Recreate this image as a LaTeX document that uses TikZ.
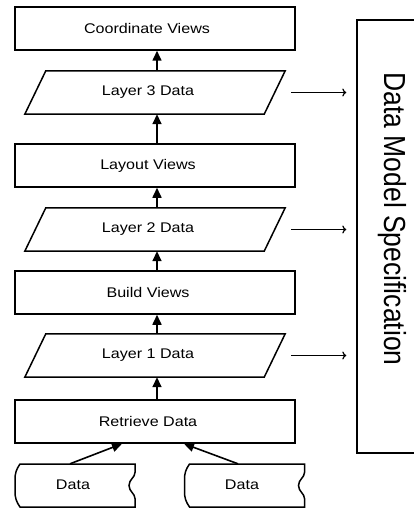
\documentclass[tikz,border=0pt]{standalone}
\usepackage{fontspec}
\setmainfont{Liberation Sans}
\newfontfamily\wfont{Liberation Sans}[FakeStretch=1.15]
\usetikzlibrary{arrows.meta,calc}
\begin{document}
\begin{tikzpicture}[x=1pt,y=-1pt,
  box/.style={draw, line width=1.5pt, minimum width=280pt, minimum height=43pt, inner sep=0pt},
  pbox/.style={minimum width=239pt, minimum height=43pt, inner sep=0pt},
  dbox/.style={minimum width=120pt, minimum height=43pt, inner sep=0pt},
  lbl/.style={font=\wfont\fontsize{14}{16}\selectfont, inner sep=0pt},
  shp/.style={line width=1.5pt},
  uparrow/.style={line width=1.6pt, -{Triangle[length=10pt,width=9pt]}},
  sidearrow/.style={line width=1.2pt, -{To[length=4pt,width=8pt]}},
]
\useasboundingbox (0,0) rectangle (413,508);

% rectangles
\node[box] (cv) at (155,28.5) {};
\node[lbl] at (147,28.5) {Coordinate Views};
\node[box] (lv) at (155,165.5) {};
\node[lbl] at (148,165.5) {Layout Views};
\node[box] (bv) at (155,292.5) {};
\node[lbl] at (148,292.5) {Build Views};
\node[box] (rd) at (155,421.5) {};
\node[lbl] at (148,421.5) {Retrieve Data};

% parallelograms
\foreach \n/\y/\t in {l3/92.5/Layer 3 Data, l2/229.5/Layer 2 Data, l1/355.5/Layer 1 Data}{
  \node[pbox] (\n) at (155,\y) {};
  \draw[shp] ([xshift=-10.5pt]\n.south west) -- ([xshift=-10.5pt]\n.south east)
     -- ([xshift=10.5pt]\n.north east) -- ([xshift=10.5pt]\n.north west) -- cycle;
  \node[lbl] at (148,\y) {\t};
}

% data documents
\foreach \n/\x in {d1/75, d2/244.5}{
  \node[dbox] (\n) at (\x,485.5) {};
  \begin{scope}[shift={(\x,485.5)}]
    \draw[shp] (-55,-21.5) to[out=-125,in=90] (-60,-6) -- (-60,6) to[out=-90,in=125] (-55,21.5)
      -- (60,21.5) -- (60,13) .. controls (60,8) and (54,6) .. (54,0)
      .. controls (54,-6) and (60,-8) .. (60,-13) -- (60,-21.5) -- cycle;
  \end{scope}
}
\node[lbl] at (73,484.5) {Data};
\node[lbl] at (242,484.5) {Data};

% specification
\node[draw, line width=1.4pt, minimum width=70pt, minimum height=433pt, inner sep=0pt] (spec) at (392,236.5) {};
\node[rotate=-90, inner sep=0pt, font=\fontsize{26.5}{30}\selectfont] at (392,219) {\scalebox{1}[1.15]{Data Model Specification}};

% vertical arrows
\draw[uparrow] ([xshift=2pt]l3.north) -- ([xshift=2pt]cv.south);
\draw[uparrow] ([xshift=2pt]lv.north) -- ([xshift=2pt]l3.south);
\draw[uparrow] ([xshift=2pt]l2.north) -- ([xshift=2pt]lv.south);
\draw[uparrow] ([xshift=2pt]bv.north) -- ([xshift=2pt]l2.south);
\draw[uparrow] ([xshift=2pt]l1.north) -- ([xshift=2pt]bv.south);
\draw[uparrow] ([xshift=2pt]rd.north) -- ([xshift=2pt]l1.south);
\draw[uparrow] ([xshift=-5pt]d1.north) -- ([xshift=-33pt]rd.south);
\draw[uparrow] ([xshift=-6.5pt]d2.north) -- ([xshift=29pt]rd.south);

% side arrows
\foreach \n in {l3,l2,l1}{
  \draw[sidearrow, shorten >=10pt] ([xshift=16.5pt]\n.east) -- (\n.east -| spec.west);
}
\end{tikzpicture}
\end{document}
